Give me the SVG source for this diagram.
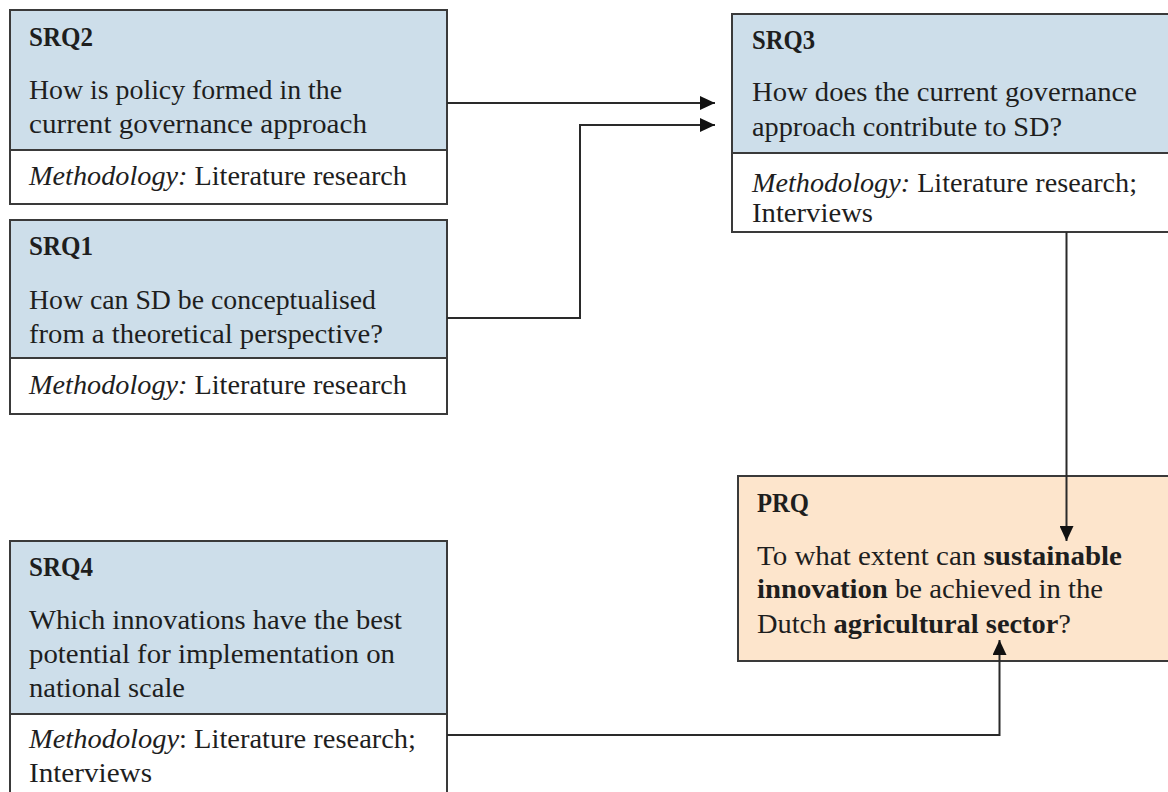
<svg xmlns="http://www.w3.org/2000/svg" width="1168" height="792" viewBox="0 0 1168 792">
<defs>
<style>
.t{font-family:"Liberation Serif","Times New Roman",serif;font-size:27px;fill:#1e1e1e}
.b{font-weight:bold}
.i{font-style:italic}
.blue{fill:#cddeea;stroke:#3a3a3a;stroke-width:2}
.white{fill:#ffffff;stroke:#3a3a3a;stroke-width:2}
.peach{fill:#fde5cc;stroke:#3a3a3a;stroke-width:2}
.c{fill:none;stroke:#2a2a2a;stroke-width:2}
</style>
<marker id="ah" viewBox="0 0 15 14" refX="15" refY="7" markerWidth="15" markerHeight="14" markerUnits="userSpaceOnUse" orient="auto">
<path d="M0,0 L15,7 L0,14 Z" fill="#111"/>
</marker>
</defs>
<rect width="1168" height="792" fill="#ffffff"/>

<g id="SRQ2">
<rect class="blue" x="10" y="10" width="437" height="140"/>
<rect class="white" x="10" y="150" width="437" height="54"/>
<text class="t b" x="29" y="46" textLength="64" lengthAdjust="spacingAndGlyphs">SRQ2</text>
<text class="t" x="29" y="99" textLength="313" lengthAdjust="spacingAndGlyphs">How is policy formed in the</text>
<text class="t" x="29" y="133" textLength="338" lengthAdjust="spacingAndGlyphs">current governance approach</text>
<text class="t" x="29" y="185" textLength="378" lengthAdjust="spacingAndGlyphs"><tspan class="i">Methodology:</tspan> Literature research</text>
</g>

<g id="SRQ1">
<rect class="blue" x="10" y="220" width="437" height="138"/>
<rect class="white" x="10" y="358" width="437" height="56"/>
<text class="t b" x="29" y="255" textLength="64" lengthAdjust="spacingAndGlyphs">SRQ1</text>
<text class="t" x="29" y="309" textLength="347" lengthAdjust="spacingAndGlyphs">How can SD be conceptualised</text>
<text class="t" x="29" y="343" textLength="354" lengthAdjust="spacingAndGlyphs">from a theoretical perspective?</text>
<text class="t" x="29" y="394" textLength="378" lengthAdjust="spacingAndGlyphs"><tspan class="i">Methodology:</tspan> Literature research</text>
</g>

<g id="SRQ3">
<rect class="blue" x="732" y="14" width="450" height="139"/>
<rect class="white" x="732" y="153" width="450" height="79"/>
<text class="t b" x="752" y="49" textLength="63" lengthAdjust="spacingAndGlyphs">SRQ3</text>
<text class="t" x="752" y="101" textLength="385" lengthAdjust="spacingAndGlyphs">How does the current governance</text>
<text class="t" x="752" y="136" textLength="310" lengthAdjust="spacingAndGlyphs">approach contribute to SD?</text>
<text class="t" x="752" y="192" textLength="385" lengthAdjust="spacingAndGlyphs"><tspan class="i">Methodology:</tspan> Literature research;</text>
<text class="t" x="752" y="222" textLength="121" lengthAdjust="spacingAndGlyphs">Interviews</text>
</g>

<g id="PRQ">
<rect class="peach" x="738" y="476" width="444" height="185"/>
<text class="t b" x="757" y="512" textLength="52" lengthAdjust="spacingAndGlyphs">PRQ</text>
<text class="t" x="757" y="565" textLength="365" lengthAdjust="spacingAndGlyphs">To what extent can <tspan class="b">sustainable</tspan></text>
<text class="t" x="757" y="598" textLength="346" lengthAdjust="spacingAndGlyphs"><tspan class="b">innovation</tspan> be achieved in the</text>
<text class="t" x="757" y="633" textLength="314" lengthAdjust="spacingAndGlyphs">Dutch <tspan class="b">agricultural sector</tspan>?</text>
</g>

<g id="SRQ4">
<rect class="blue" x="10" y="541" width="437" height="173"/>
<rect class="white" x="10" y="714" width="437" height="90"/>
<text class="t b" x="29" y="576" textLength="64" lengthAdjust="spacingAndGlyphs">SRQ4</text>
<text class="t" x="29" y="629" textLength="373" lengthAdjust="spacingAndGlyphs">Which innovations have the best</text>
<text class="t" x="29" y="663" textLength="366" lengthAdjust="spacingAndGlyphs">potential for implementation on</text>
<text class="t" x="29" y="697" textLength="156" lengthAdjust="spacingAndGlyphs">national scale</text>
<text class="t" x="29" y="748" textLength="387" lengthAdjust="spacingAndGlyphs"><tspan class="i">Methodology</tspan>: Literature research;</text>
<text class="t" x="29" y="782" textLength="123" lengthAdjust="spacingAndGlyphs">Interviews</text>
</g>

<g id="connectors">
<path class="c" d="M447,103 L715,103" marker-end="url(#ah)"/>
<path class="c" d="M447,318 L580,318 L580,125 L715,125" marker-end="url(#ah)"/>
<path class="c" d="M1066.5,232 L1066.5,541" marker-end="url(#ah)"/>
<path class="c" d="M447,735 L999.5,735 L999.5,640" marker-end="url(#ah)"/>
</g>
</svg>
